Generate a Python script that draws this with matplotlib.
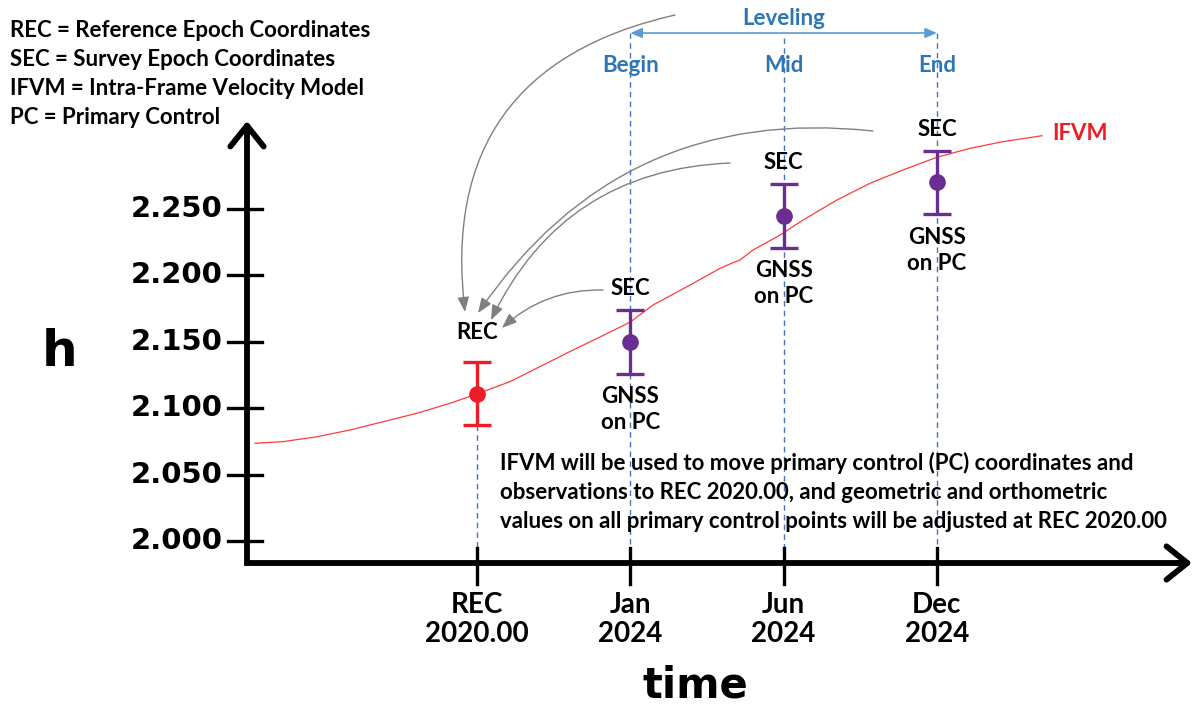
import matplotlib
matplotlib.use("Agg")
import matplotlib.pyplot as plt

# epochs along the time axis
epochs = ["REC\n2020.00", "Jan\n2024", "Jun\n2024", "Dec\n2024"]
epoch_pos = [0, 1, 2, 3]
phase = ["", "Begin", "Mid", "End"]

# ellipsoid heights with error bars
h_obs = [2.111, 2.150, 2.245, 2.270]
h_err = [0.024, 0.024, 0.024, 0.024]

y_ticks = [2.000, 2.050, 2.100, 2.150, 2.200, 2.250]

# IFVM curve
ifvm_x = [-1.448, -1.266, -1.044, -0.828, -0.613, -0.391, -0.176, 0.0, 0.215,
          0.626, 0.802, 1.0, 1.148, 1.370, 1.585, 1.670, 1.716, 1.800, 1.977,
          2.127, 2.348, 2.564, 2.779, 2.999, 3.216, 3.431, 3.686]
ifvm_h = [2.0736, 2.0748, 2.0785, 2.0836, 2.0898, 2.0962, 2.1037, 2.1107, 2.1200,
          2.1438, 2.1536, 2.1649, 2.1777, 2.1915, 2.2053, 2.2096, 2.2116, 2.2191,
          2.2304, 2.2417, 2.2568, 2.2694, 2.2794, 2.2889, 2.2957, 2.3007, 2.3052]

legend_lines = ["REC = Reference Epoch Coordinates",
                "SEC = Survey Epoch Coordinates",
                "IFVM = Intra-Frame Velocity Model",
                "PC = Primary Control"]

note = ("IFVM will be used to move primary control (PC) coordinates and\n"
        "observations to REC 2020.00, and geometric and orthometric\n"
        "values on all primary control points will be adjusted at REC 2020.00")

# pixel layout of the original picture
X0, DX = 477, 153.3      # pixel of REC, pixels per epoch step
Y0, DY = 541, 1328.0     # pixel of h=2.000, pixels per unit h


def px(x, y):
    return (x - X0) / DX, 2.0 + (Y0 - y) / DY


BLUE = "#2e75b6"
RED = "#ee1c25"
PURPLE = "#6a2d91"
GRAY = "#808080"
FONT = "Lato"

fig = plt.figure(figsize=(11.95, 7.08), dpi=100)
ax = fig.add_axes([0, 0, 1, 1])
ax.set_xlim(px(0, 0)[0], px(1195, 0)[0])
ax.set_ylim(px(0, 708)[1], px(0, 0)[1])
ax.axis("off")

x_axis_h = px(0, 563)[1]
y_axis_x = px(247, 0)[0]
top_h = px(0, 121)[1]
right_x = px(1192, 0)[0]

# axes drawn as thick arrows
ax.plot([y_axis_x, y_axis_x, right_x - 0.05], [top_h - 0.005, x_axis_h, x_axis_h],
        color="black", lw=4.2, solid_joinstyle="miter", solid_capstyle="butt", zorder=5)
ax.annotate("", xy=(y_axis_x, top_h), xytext=(y_axis_x, top_h - 0.01),
            arrowprops=dict(arrowstyle="->,head_length=1.5,head_width=1.2",
                            lw=4.2, color="black", shrinkA=0, shrinkB=0), zorder=5)
ax.annotate("", xy=(right_x, x_axis_h), xytext=(right_x - 0.1, x_axis_h),
            arrowprops=dict(arrowstyle="->,head_length=1.5,head_width=1.2",
                            lw=4.2, color="black", shrinkA=0, shrinkB=0), zorder=5)

# y ticks
tick_l, tick_r = px(228, 0)[0], px(262, 0)[0]
for t in y_ticks:
    ax.plot([tick_l, tick_r], [t, t], color="black", lw=2.4, zorder=5)
    ax.text(px(223, 0)[0], t, "%.3f" % t, ha="right", va="center",
            fontsize=21, fontweight="bold", family="DejaVu Sans")

# x ticks
for x, lab in zip(epoch_pos, epochs):
    ax.plot([x, x], [px(0, 548)[1], px(0, 584)[1]], color="black", lw=2.4, zorder=5)
    ax.text(x, px(0, 592)[1], lab, ha="center", va="top", fontsize=20,
            fontweight="bold", family=FONT, linespacing=1.15)

# dashed verticals
ax.plot([0, 0], [h_obs[0] - h_err[0], x_axis_h], color="#4472c4", lw=1,
        ls=(0, (4, 3)), zorder=1)
for x, top in zip(epoch_pos[1:], [33, 38, 33]):
    ax.plot([x, x], [px(0, top)[1], x_axis_h], color="#4472c4", lw=1,
            ls=(0, (4, 3)), zorder=1)

# leveling span
lev_h = px(0, 33)[1]
ax.annotate("", xy=(epoch_pos[3], lev_h), xytext=(epoch_pos[1], lev_h),
            arrowprops=dict(arrowstyle="<|-|>,head_length=0.7,head_width=0.3",
                            lw=1.2, color="#5b9bd5", shrinkA=0, shrinkB=0))
ax.text(2, px(0, 18)[1], "Leveling", ha="center", va="center", color=BLUE,
        fontsize=16, fontweight="bold", family=FONT)
for x, p in zip(epoch_pos[1:], phase[1:]):
    ax.text(x, px(0, 65)[1], p, ha="center", va="center", color=BLUE,
            fontsize=16, fontweight="bold", family=FONT)

# IFVM curve
ax.plot(ifvm_x, ifvm_h, color="#ff3b3b", lw=0.9, zorder=2)
ax.text(px(1052, 0)[0], px(0, 133)[1], "IFVM", ha="left", va="center",
        color=RED, fontsize=16, fontweight="bold", family=FONT)

# error bars
colors = [RED, PURPLE, PURPLE, PURPLE]
for x, h, e, c in zip(epoch_pos, h_obs, h_err, colors):
    ax.errorbar(x, h, yerr=e, fmt="o", color=c, ms=11, elinewidth=2.4,
                capsize=10, capthick=2.4, zorder=4)

# point labels
ax.text(0, h_obs[0] + h_err[0] + 0.022, "REC", ha="center", va="center",
        fontsize=16, fontweight="bold", family=FONT)
for x, h, e in zip(epoch_pos[1:], h_obs[1:], h_err[1:]):
    ax.text(x, h + e + 0.016, "SEC", ha="center", va="center",
            fontsize=16, fontweight="bold", family=FONT)
    ax.text(x, h - e - 0.027, "GNSS\non PC", ha="center", va="center",
            fontsize=16, fontweight="bold", family=FONT, linespacing=1.3)

# grey arrows from survey epochs back to the reference epoch
arrows = [((675, 15), (465, 312), 0.45),
          ((873, 131), (478, 313), 0.3),
          ((730, 163), (491, 320), 0.3),
          ((603, 290), (502, 328), 0.2)]
for tail, head, rad in arrows:
    ax.annotate("", xy=px(*head), xytext=px(*tail),
                arrowprops=dict(arrowstyle="-|>,head_length=0.9,head_width=0.35",
                                color=GRAY, lw=1, shrinkA=0, shrinkB=0,
                                connectionstyle="arc3,rad=%.2f" % rad))

# legend text and note
for i, line in enumerate(legend_lines):
    ax.text(px(10, 0)[0], px(0, 30 + 29.2 * i)[1], line, ha="left", va="center",
            fontsize=16, fontweight="bold", family=FONT)
ax.text(px(500, 0)[0], px(0, 492)[1], note, ha="left", va="center",
        fontsize=16, fontweight="bold", family=FONT, linespacing=1.45)

ax.text(px(60, 0)[0], px(0, 352)[1], "h", ha="center", va="center",
        fontsize=36, fontweight="bold", family="DejaVu Sans")
ax.text(px(695, 0)[0], px(0, 685)[1], "time", ha="center", va="center",
        fontsize=30, fontweight="bold", family="DejaVu Sans")

fig.savefig("out.png", dpi=100)
